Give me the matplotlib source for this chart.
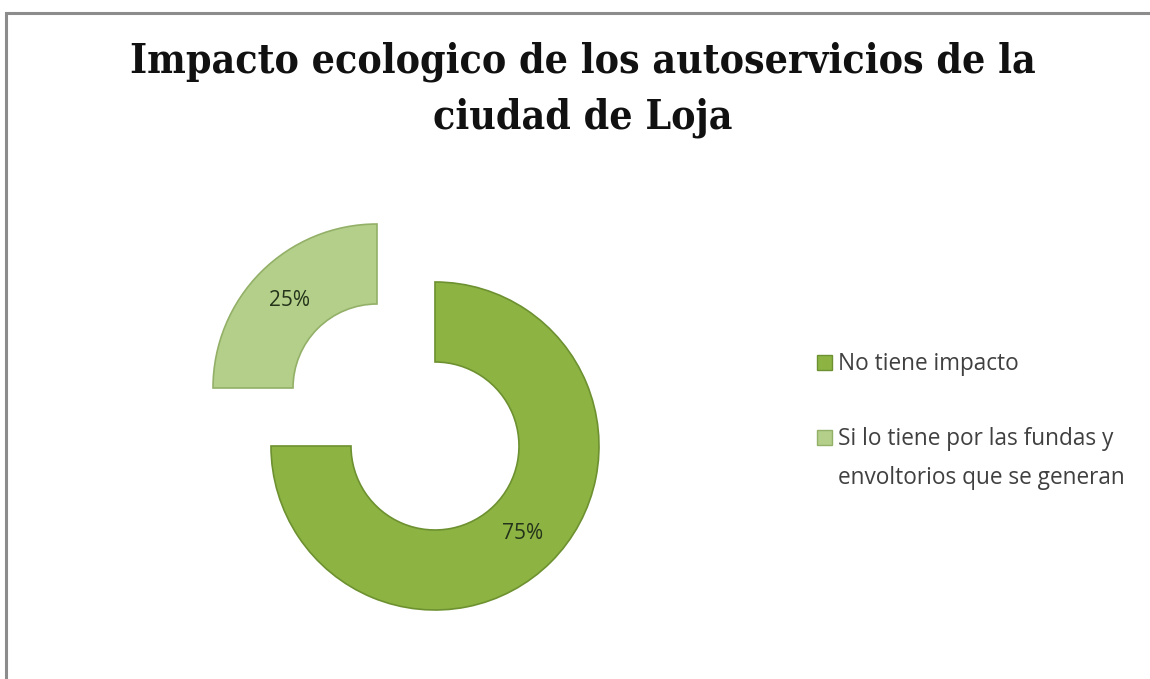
import matplotlib.pyplot as plt
from matplotlib.patches import Rectangle

# survey answers
labels = ['No tiene impacto',
          'Si lo tiene por las fundas y\nenvoltorios que se generan']
values = [75, 25]
colors = ['#8db443', '#b4cf89']
edges = ['#6d9130', '#93b068']

title = 'Impacto ecologico de los autoservicios de la\nciudad de Loja'

W, H = 1150, 679
fig = plt.figure(figsize=(W / 100, H / 100), dpi=100)
ax = fig.add_axes([0, 0, 1, 1])
ax.set_xlim(0, W)
ax.set_ylim(0, H)
ax.set_aspect('equal')
ax.axis('off')

# chart frame (top and left edges visible)
ax.plot([6, 6, W], [0, H - 13, H - 13], color='#8c8c8c', lw=2.2,
        solid_joinstyle='miter')

R = 164
wedges, _, pcts = ax.pie(values, colors=colors, startangle=90, counterclock=False,
                         center=(406, 262), radius=R, explode=[41, 41],
                         autopct='%1.0f%%', pctdistance=0.755,
                         wedgeprops=dict(width=80, linewidth=1.2),
                         textprops=dict(fontsize=15, color='#24331a',
                                        family=['Open Sans', 'DejaVu Sans']))
for w, ec in zip(wedges, edges):
    w.set_edgecolor(ec)
ax.set_xlim(0, W)
ax.set_ylim(0, H)

fig.text(583 / W, 1 - 41 / H, title, ha='center', va='top', fontsize=29.3,
         fontweight='bold', family=['DejaVu Serif'], fontstretch='condensed',
         linespacing=1.5, color='#111111')

# legend: square marker aligned with the first line of each label
leg_x, leg_y = 817, [H - 362, H - 437]
sq = 15
for w, lab, y in zip(wedges, labels, leg_y):
    ax.add_patch(Rectangle((leg_x, y - sq / 2), sq, sq,
                           facecolor=w.get_facecolor(), edgecolor=w.get_edgecolor(),
                           lw=1))
    ax.text(leg_x + sq + 6, y + 10, lab, ha='left', va='top', fontsize=16.3,
            family='Open Sans', color='#404040', linespacing=1.85)

fig.savefig('out.png', dpi=100)
